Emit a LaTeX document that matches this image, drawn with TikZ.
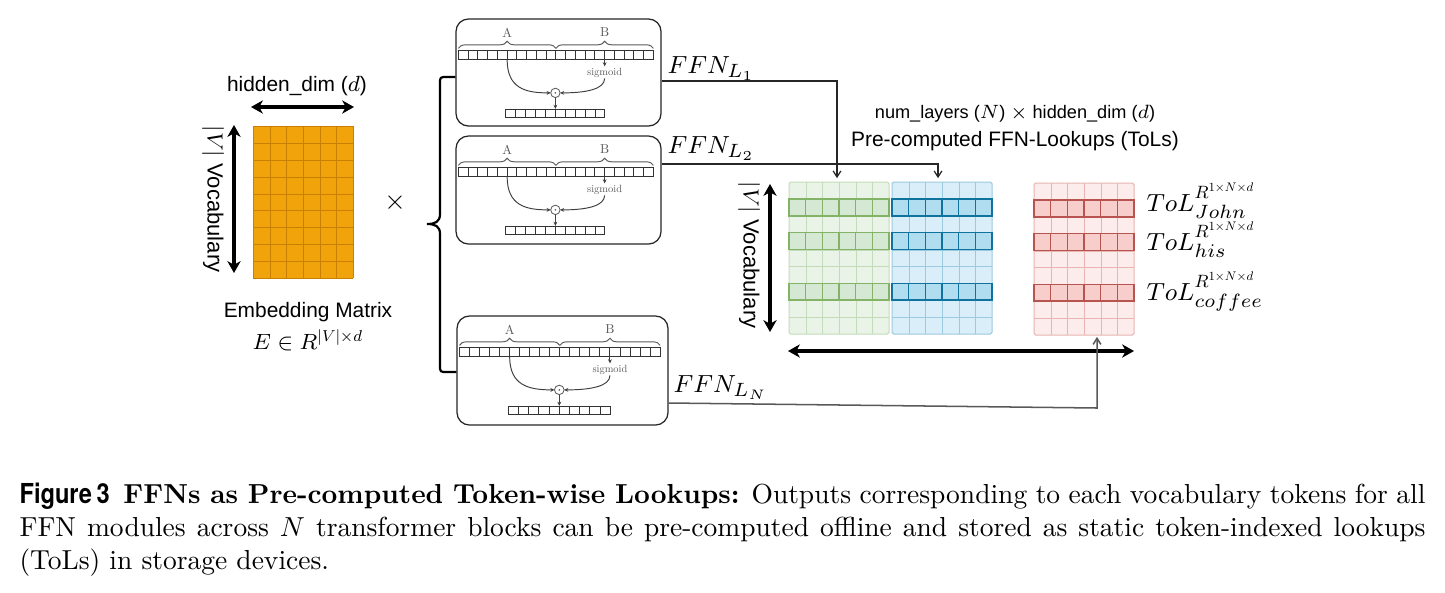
\documentclass[tikz,border=0pt]{standalone}
\usepackage{fontspec}
\usepackage{graphicx}
\usetikzlibrary{arrows.meta,decorations.pathreplacing,fit}
\newfontfamily\arialfont{Liberation Sans}
\newfontfamily\figfont[FakeStretch=0.86]{TeX Gyre Heros}
\definecolor{orfill}{HTML}{F0A30A}
\definecolor{orline}{HTML}{C98000}
\definecolor{gLf}{HTML}{EAF3E8}
\definecolor{gLd}{HTML}{C3DCB7}
\definecolor{gDf}{HTML}{D5E8D4}
\definecolor{gDd}{HTML}{82B366}
\definecolor{bLf}{HTML}{DAEEF9}
\definecolor{bLd}{HTML}{9ACAE0}
\definecolor{bDf}{HTML}{B1DDF0}
\definecolor{bDd}{HTML}{10739E}
\definecolor{rLf}{HTML}{FCECEB}
\definecolor{rLd}{HTML}{E8B5B2}
\definecolor{rDf}{HTML}{F8CECC}
\definecolor{rDd}{HTML}{B85450}
\definecolor{ffngray}{HTML}{5A5A5A}
\newcommand{\tolsup}{\raisebox{0.6pt}{\scalebox{0.72}{$R^{\scalebox{0.7}{$1{\times}N{\times}d$}}$}}}
\tikzset{
  sans/.style={font=\arialfont\fontsize{7.6}{9}\selectfont, inner sep=0},
  sanssmall/.style={font=\arialfont\fontsize{6.6}{8}\selectfont, inner sep=0},
  vocab/.style={font=\arialfont\fontsize{8}{9}\selectfont, inner sep=0, rotate=-90},
  mathlab/.style={font=\fontsize{9.5}{11}\selectfont, inner sep=0, anchor=base west},
  caption/.style={font=\fontsize{10}{12}\selectfont, inner sep=0, anchor=base west},
  bigarrow/.style={line width=1.1pt, arrows={Stealth[length=4.3pt,width=4.8pt,inset=1.3pt]-Stealth[length=4.3pt,width=4.8pt,inset=1.3pt]}},
  conn/.style={draw=black!85, line width=0.45pt, arrows={-Straight Barb[length=2.2pt,width=2.8pt]}, shorten >=1.2pt},
  connN/.style={draw=black!65, line width=0.55pt, arrows={-Straight Barb[length=2.2pt,width=2.8pt]}, shorten >=0.5pt},
  bigbrace/.style={draw=black, line width=0.8pt},
  ffnbox/.style={draw=black!85, line width=0.45pt, rounded corners=4.5pt, inner sep=0},
  cellk/.style={draw=black!80, line width=0.35pt},
  ffnbrace/.style={draw=ffngray, line width=0.35pt, decorate, decoration={brace, amplitude=2.6pt}},
  ffnlab/.style={font=\fontsize{10}{12}\selectfont, text=ffngray, inner sep=0, scale=0.47},
  ffnsig/.style={font=\fontsize{10}{12}\selectfont, text=ffngray, inner sep=0, scale=0.38},
  ffnarr/.style={draw=black!75, line width=0.35pt, arrows={-Stealth[length=1.5pt,width=1.4pt]}},
  ffncirc/.style={draw=ffngray, line width=0.3pt},
  matbox/.style={inner sep=0},
}
\newcommand{\ffninner}{%
  \foreach \kk in {0,...,19} \draw[cellk] ({3+\kk*9.75},32) rectangle ++(9.75,9);
  \draw[ffnbrace] (3,30) -- (100.5,30);
  \draw[ffnbrace] (100.5,30) -- (198,30);
  \node[ffnlab] at (51.75,14) {A};
  \node[ffnlab] at (149.25,14) {B};
  \draw[ffnarr] (51.75,41) .. controls (51.75,70) and (70,74.5) .. (95.3,74.5);
  \draw[ffnarr] (149.25,41) -- (149.25,48);
  \node[ffnsig] at (149.25,55) {sigmoid};
  \draw[ffnarr] (149.25,60) .. controls (149.25,71) and (130,74.5) .. (104.7,74.5);
  \draw[ffncirc] (100,74.5) circle (4.7);
  \fill[ffngray] (100,74.5) circle (0.9);
  \draw[ffnarr] (100,79.2) -- (100,90.5);
  \foreach \kk in {0,...,9} \draw[cellk] ({50.5+\kk*9.9},91) rectangle ++(9.9,8);
}
\newcommand{\tolgrid}[6]{%
  \fill[#3, rounded corners=0.6pt] (#1,#2) rectangle ++(100,152);
  \foreach \ci in {1,...,5} \draw[#4, line width=0.36pt] ({#1+round(\ci*100/6)+0.5},#2) -- ++(0,152);
  \foreach \ri in {1,...,8} \draw[#4, line width=0.36pt] (#1,{#2+round(\ri*152/9)+0.5}) -- ++(100,0);
  \draw[#4, line width=0.36pt, rounded corners=0.6pt] (#1,#2) rectangle ++(100,152);
  \foreach \ri in {1,3,6} {
    \foreach \ci in {0,...,5} \filldraw[fill=#5, draw=#6, line width=0.55pt] ({#1+\ci*100/6},{#2+\ri*152/9}) rectangle ++({100/6},{152/9});
  }
}
\begin{document}
\begin{tikzpicture}[x=0.3636pt,y=-0.3636pt]
\useasboundingbox (0,0) rectangle (1445,592);
\fill[white] (0,0) rectangle (1445,592);

% ---------- embedding matrix ----------
\node[matbox, fit={(253,126) (353,278)}] (emb) {};
\fill[orfill] (253,126) rectangle (353,278);
\foreach \ci in {0,...,6} \draw[orline, line width=0.36pt] ({253+round(\ci*100/6)+0.5},126) -- ++(0,152);
\foreach \ri in {0,...,9} \draw[orline, line width=0.36pt] (253,{126+round(\ri*152/9)+0.5}) -- ++(100,0);

\node[sans] (hd) at (297,86) {hidden\_dim ($d$)};
\coordinate (ha) at (251,107);
\coordinate (hb) at (354,107);
\draw[bigarrow] (ha) -- (hb);
\coordinate (va) at (234,125);
\coordinate (vb) at (234,273);
\draw[bigarrow] (va) -- (vb);
\node[vocab] (voc1) at (213,199) {$|V|$ Vocabulary};
\node[sans] (embt) at (308,312) {Embedding Matrix};
\node[font=\fontsize{8}{10}\selectfont, inner sep=0, anchor=base] (embm) at (308,349) {$E \in R^{\scalebox{0.72}{$|V|{\times}d$}}$};
\node[font=\fontsize{10}{12}\selectfont, inner sep=0] (times) at (395,203) {$\times$};

% ---------- FFN boxes ----------
\node[ffnbox, fit={(456,19) (661,126)}] (ffn1) {};
\node[ffnbox, fit={(456,136) (661,244)}] (ffn2) {};
\node[ffnbox, fit={(457,316) (668,425)}] (ffnN) {};
\begin{scope}[shift={(ffn1.north west)}]\ffninner\end{scope}
\begin{scope}[shift={(ffn2.north west)}]\ffninner\end{scope}
\begin{scope}[shift={(ffnN.north west)}, xscale=1.029]\ffninner\end{scope}

% big brace
\coordinate (bt) at (456,77);
\coordinate (bbot) at (456,372);
\draw[bigbrace] (ffn1.west |- bt) -- (447,77) .. controls (440,77) .. (440,84) -- (440,214)
  .. controls (440,222) and (435,224) .. (427,224)
  .. controls (435,224) and (440,226) .. (440,234) -- (440,365)
  .. controls (440,372) .. (447,372) -- (ffnN.west |- bbot);

% ---------- ToL matrices ----------
\node[matbox, fit={(789,182) (889,334)}] (green) {};
\node[matbox, fit={(892,182) (992,334)}] (blue) {};
\node[matbox, fit={(1034,183) (1134,335)}] (red) {};
\tolgrid{789}{182}{gLf}{gLd}{gDf}{gDd}
\tolgrid{892}{182}{bLf}{bLd}{bDf}{bDd}
\tolgrid{1034}{183}{rLf}{rLd}{rDf}{rDd}

\coordinate (va2) at (770,184);
\coordinate (vb2) at (770,332);
\draw[bigarrow] (va2) -- (vb2);
\node[vocab] (voc2) at (749,255) {$|V|$ Vocabulary};
\coordinate (ba) at (788,351);
\coordinate (bb) at (1134,351);
\draw[bigarrow] (ba) -- (bb);

\node[sanssmall] (nl) at (1015,114) {num\_layers ($N$) $\times$ hidden\_dim ($d$)};
\node[sans] (pc) at (1015,141) {Pre-computed FFN-Lookups (ToLs)};

\node[mathlab] (tol1) at (1146,211) {$ToL^{\tolsup}_{John}$};
\node[mathlab] (tol2) at (1146,250) {$ToL^{\tolsup}_{his}$};
\node[mathlab] (tol3) at (1146,300) {$ToL^{\tolsup}_{coffee}$};

% ---------- connectors ----------
\node[mathlab] (f1) at (667,73) {$FFN_{L_1}$};
\node[mathlab] (f2) at (667,153) {$FFN_{L_2}$};
\node[mathlab] (fN) at (673,392) {$FFN_{L_N}$};
\coordinate (k1) at (837,81);
\draw[conn] (ffn1.east |- k1) -- (k1) -- (k1 |- green.north);
\coordinate (k2) at (938,164);
\draw[conn] (ffn2.east |- k2) -- (k2) -- (k2 |- blue.north);
\coordinate (sN) at (668,403);
\coordinate (kN) at (1097,408);
\draw[connN] (ffnN.east |- sN) -- (kN) -- (kN |- red.south);

% ---------- caption ----------
\node[caption] (cap1) at (19,503) {\hbox to 511.2pt{{\figfont\bfseries Figure\,3}\hspace{0.5em}\textbf{FFNs as Pre-computed Token-wise Lookups:} Outputs corresponding to each vocabulary tokens for all}};
\node[caption] (cap2) at (19,536) {\hbox to 511.2pt{FFN modules across $N$ transformer blocks can be pre-computed offline and stored as static token-indexed lookups}};
\node[caption] (cap3) at (19,569) {(ToLs) in storage devices.};
\end{tikzpicture}
\end{document}
